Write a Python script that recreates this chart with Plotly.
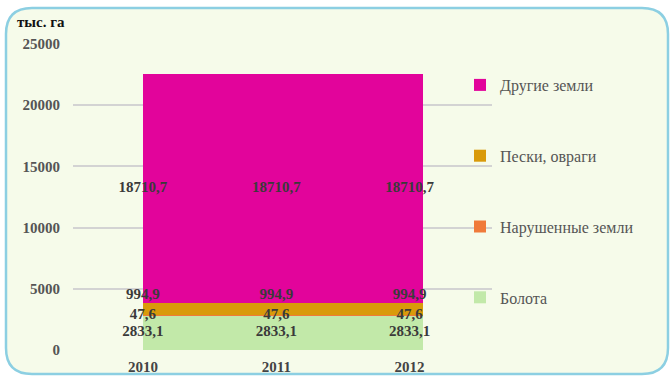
import plotly.graph_objects as go

years = ["2010", "2011", "2012"]
series_names = ["Болота", "Нарушенные земли", "Пески, овраги", "Другие земли"]
bolota = [2833.1, 2833.1, 2833.1]
narush = [47.6, 47.6, 47.6]
peski = [994.9, 994.9, 994.9]
drugie = [18710.7, 18710.7, 18710.7]
y_ticks = [0, 5000, 10000, 15000, 20000, 25000]

colors = ["#c2e9a9", "#f07a3a", "#d99a0a", "#e2049b"]
values = [bolota, narush, peski, drugie]

W, H = 670, 376
ML, MR, MT, MB = 73, W - 492, 44, H - 350
PW, PH = W - ML - MR, H - MT - MB

xpos = [0, 1, 2]
bar_offset = [0, -0.5, -0.5]
bar_width = [0.5, 1.0, 0.6]
x_range = [-0.525, 2.618]

def fmt(v):
    return f"{v:.1f}".replace(".", ",")

fig = go.Figure()
n = len(series_names)
for i, (name, vals, col) in enumerate(zip(series_names, values, colors)):
    fig.add_trace(go.Bar(
        x=xpos, y=vals, name=name, marker_color=col,
        marker_line_width=0, offset=bar_offset, width=bar_width,
        legendgroup=name, legendrank=n - i,
    ))

# data labels
lab_font = dict(family="Liberation Serif", size=15, color="#3a3a3a")
cum = [0.0, 0.0, 0.0]
for i, vals in enumerate(values):
    base = cum[:]
    cum = [c + v for c, v in zip(cum, vals)]
    if i == 2:
        ys, pos = cum, "top center"
    else:
        ys, pos = [b + v / 2 for b, v in zip(base, vals)], "middle center"
    fig.add_trace(go.Scatter(
        x=xpos, y=ys, mode="text", text=[f"<b>{fmt(v)}</b>" for v in vals],
        textposition=pos, textfont=lab_font, showlegend=False, hoverinfo="skip",
    ))

def px2paper(px, py):
    return (px - ML) / PW, (H - MB - py) / PH

def rounded_path(x0, y0, x1, y1, r):
    def P(x, y):
        a, b = px2paper(x, y)
        return f"{a:.5f},{b:.5f}"
    return (f"M {P(x0 + r, y0)} L {P(x1 - r, y0)} Q {P(x1, y0)} {P(x1, y0 + r)} "
            f"L {P(x1, y1 - r)} Q {P(x1, y1)} {P(x1 - r, y1)} "
            f"L {P(x0 + r, y1)} Q {P(x0, y1)} {P(x0, y1 - r)} "
            f"L {P(x0, y0 + r)} Q {P(x0, y0)} {P(x0 + r, y0)} Z")

fig.add_shape(type="path", xref="paper", yref="paper",
              path=rounded_path(6, 8, 668, 374, 26),
              fillcolor="#f6fbea", line=dict(color="#8ccfe2", width=2.5),
              layer="below")

tx, ty = px2paper(15, 22)
fig.add_annotation(xref="paper", yref="paper", x=tx, y=ty, xanchor="left", yanchor="middle",
                   text="<b>тыс. га</b>", showarrow=False,
                   font=dict(family="Liberation Serif", size=15, color="#111111"))

lx, ly = px2paper(460, 68)
fig.update_layout(
    width=W, height=H, margin=dict(l=ML, r=MR, t=MT, b=MB),
    paper_bgcolor="white", plot_bgcolor="rgba(0,0,0,0)",
    barmode="stack", bargap=0,
    showlegend=True,
    legend=dict(x=lx, y=ly, xanchor="left", yanchor="top", traceorder="grouped",
                tracegroupgap=47, bgcolor="rgba(0,0,0,0)",
                font=dict(family="Liberation Serif", size=16, color="#555555")),
    xaxis=dict(range=x_range, tickvals=xpos, ticktext=[f"<b>{y}</b>" for y in years],
               showgrid=False, zeroline=False, showline=False, ticks="",
               automargin=False, ticklabelstandoff=6,
               tickfont=dict(family="Liberation Serif", size=15, color="#444444")),
    yaxis=dict(range=[0, 25000], tickvals=y_ticks, ticktext=[f"<b>{t}</b>" for t in y_ticks],
               showgrid=True, gridcolor="#d3d3d3", gridwidth=1.5, zeroline=False,
               ticklabelstandoff=12, automargin=False,
               tickfont=dict(family="Liberation Serif", size=15, color="#555555")),
)

fig.write_html("out.html", config={"displayModeBar": False},
               post_script="document.body.style.margin='0';")
